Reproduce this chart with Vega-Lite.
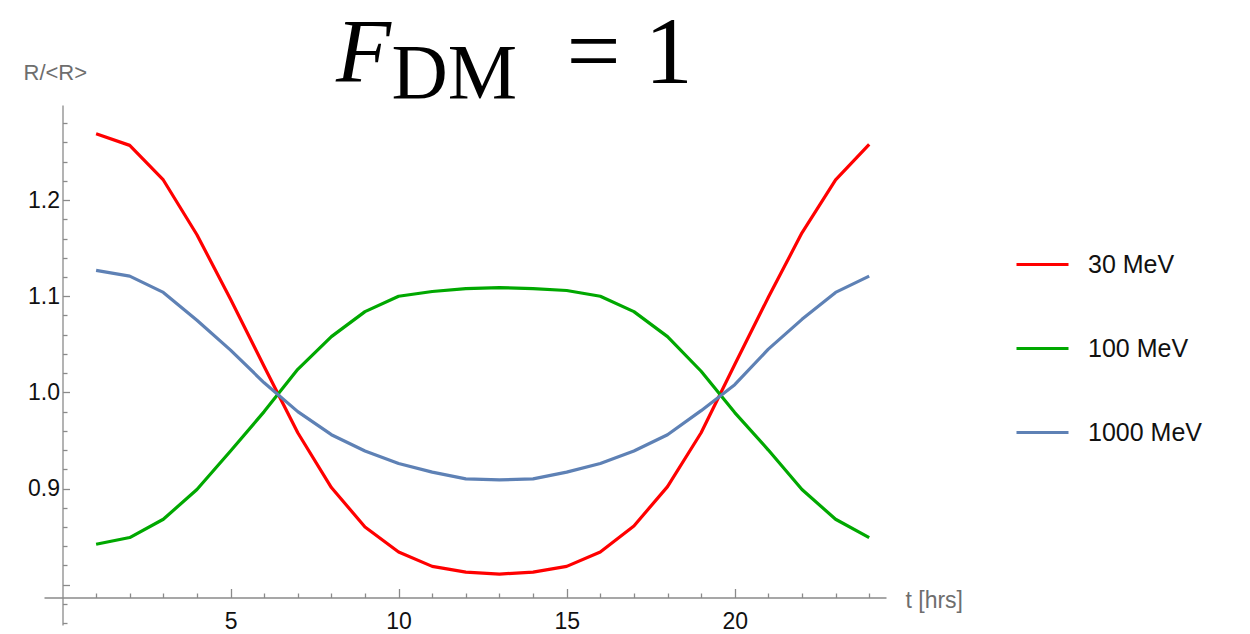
{
  "$schema": "https://vega.github.io/schema/vega-lite/v6.json",
  "autosize": "none",
  "padding": {"left": 44, "top": 105, "right": 364, "bottom": 9},
  "width": 842,
  "height": 520,
  "background": "white",
  "config": {"view": {"stroke": null}},
  "title": {"text": "F", "anchor": "start", "frame": "group", "font": "Liberation Serif", "fontStyle": "italic", "fontWeight": "normal", "fontSize": 90, "color": "black", "baseline": "alphabetic", "offset": 0, "dx": 292, "dy": 167},
  "data": {"values": [
    {"t": 1, "r": 1.269, "s": "30 MeV"}, {"t": 2, "r": 1.257, "s": "30 MeV"}, {"t": 3, "r": 1.221, "s": "30 MeV"}, {"t": 4, "r": 1.164, "s": "30 MeV"}, {"t": 5, "r": 1.097, "s": "30 MeV"}, {"t": 6, "r": 1.027, "s": "30 MeV"}, {"t": 7, "r": 0.958, "s": "30 MeV"}, {"t": 8, "r": 0.901, "s": "30 MeV"}, {"t": 9, "r": 0.860, "s": "30 MeV"}, {"t": 10, "r": 0.834, "s": "30 MeV"}, {"t": 11, "r": 0.819, "s": "30 MeV"}, {"t": 12, "r": 0.813, "s": "30 MeV"}, {"t": 13, "r": 0.811, "s": "30 MeV"}, {"t": 14, "r": 0.813, "s": "30 MeV"}, {"t": 15, "r": 0.819, "s": "30 MeV"}, {"t": 16, "r": 0.834, "s": "30 MeV"}, {"t": 17, "r": 0.861, "s": "30 MeV"}, {"t": 18, "r": 0.902, "s": "30 MeV"}, {"t": 19, "r": 0.958, "s": "30 MeV"}, {"t": 20, "r": 1.029, "s": "30 MeV"}, {"t": 21, "r": 1.099, "s": "30 MeV"}, {"t": 22, "r": 1.166, "s": "30 MeV"}, {"t": 23, "r": 1.221, "s": "30 MeV"}, {"t": 24, "r": 1.258, "s": "30 MeV"},
    {"t": 1, "r": 0.842, "s": "100 MeV"}, {"t": 2, "r": 0.849, "s": "100 MeV"}, {"t": 3, "r": 0.868, "s": "100 MeV"}, {"t": 4, "r": 0.899, "s": "100 MeV"}, {"t": 5, "r": 0.939, "s": "100 MeV"}, {"t": 6, "r": 0.980, "s": "100 MeV"}, {"t": 7, "r": 1.024, "s": "100 MeV"}, {"t": 8, "r": 1.058, "s": "100 MeV"}, {"t": 9, "r": 1.084, "s": "100 MeV"}, {"t": 10, "r": 1.100, "s": "100 MeV"}, {"t": 11, "r": 1.105, "s": "100 MeV"}, {"t": 12, "r": 1.108, "s": "100 MeV"}, {"t": 13, "r": 1.109, "s": "100 MeV"}, {"t": 14, "r": 1.108, "s": "100 MeV"}, {"t": 15, "r": 1.106, "s": "100 MeV"}, {"t": 16, "r": 1.100, "s": "100 MeV"}, {"t": 17, "r": 1.084, "s": "100 MeV"}, {"t": 18, "r": 1.058, "s": "100 MeV"}, {"t": 19, "r": 1.022, "s": "100 MeV"}, {"t": 20, "r": 0.979, "s": "100 MeV"}, {"t": 21, "r": 0.940, "s": "100 MeV"}, {"t": 22, "r": 0.899, "s": "100 MeV"}, {"t": 23, "r": 0.868, "s": "100 MeV"}, {"t": 24, "r": 0.849, "s": "100 MeV"},
    {"t": 1, "r": 1.127, "s": "1000 MeV"}, {"t": 2, "r": 1.121, "s": "1000 MeV"}, {"t": 3, "r": 1.104, "s": "1000 MeV"}, {"t": 4, "r": 1.075, "s": "1000 MeV"}, {"t": 5, "r": 1.044, "s": "1000 MeV"}, {"t": 6, "r": 1.010, "s": "1000 MeV"}, {"t": 7, "r": 0.980, "s": "1000 MeV"}, {"t": 8, "r": 0.956, "s": "1000 MeV"}, {"t": 9, "r": 0.939, "s": "1000 MeV"}, {"t": 10, "r": 0.926, "s": "1000 MeV"}, {"t": 11, "r": 0.917, "s": "1000 MeV"}, {"t": 12, "r": 0.910, "s": "1000 MeV"}, {"t": 13, "r": 0.909, "s": "1000 MeV"}, {"t": 14, "r": 0.910, "s": "1000 MeV"}, {"t": 15, "r": 0.917, "s": "1000 MeV"}, {"t": 16, "r": 0.926, "s": "1000 MeV"}, {"t": 17, "r": 0.939, "s": "1000 MeV"}, {"t": 18, "r": 0.956, "s": "1000 MeV"}, {"t": 19, "r": 0.981, "s": "1000 MeV"}, {"t": 20, "r": 1.008, "s": "1000 MeV"}, {"t": 21, "r": 1.045, "s": "1000 MeV"}, {"t": 22, "r": 1.076, "s": "1000 MeV"}, {"t": 23, "r": 1.104, "s": "1000 MeV"}, {"t": 24, "r": 1.121, "s": "1000 MeV"}
  ]},
  "resolve": {"axis": {"x": "independent", "y": "independent"}},
  "layer": [
    {
      "mark": {"type": "line", "strokeWidth": 3.2, "strokeJoin": "round"},
      "encoding": {
        "x": {"field": "t", "type": "quantitative",
          "scale": {"domain": [-0.55, 24.5], "nice": false, "zero": false},
          "axis": {"orient": "bottom", "offset": -27.5, "grid": false,
            "values": [1,2,3,4,5,6,7,8,9,10,11,12,13,14,15,16,17,18,19,20,21,22,23,24],
            "labelExpr": "datum.value % 5 === 0 ? datum.label : ''",
            "tickSize": {"condition": {"test": "datum.value % 5 === 0", "value": -9}, "value": -4.5},
            "domainColor": "#8a8a8a", "tickColor": "#8a8a8a", "domainWidth": 1.3, "tickWidth": 1.3,
            "labelFont": "Liberation Sans", "labelFontSize": 23, "labelColor": "#111111", "labelPadding": 22,
            "labelFlush": false, "labelOverlap": false,
            "title": "t [hrs]", "titleX": 861, "titleY": 9.5, "titleAlign": "left", "titleBaseline": "alphabetic",
            "titleFont": "Liberation Sans", "titleFontSize": 23, "titleFontWeight": "normal", "titleColor": "#6e6e6e"}},
        "y": {"field": "r", "type": "quantitative",
          "scale": {"domain": [0.758, 1.299], "nice": false, "zero": false},
          "axis": {"orient": "left", "offset": -18.5, "grid": false,
            "values": [0.76,0.78,0.8,0.82,0.84,0.86,0.88,0.9,0.92,0.94,0.96,0.98,1,1.02,1.04,1.06,1.08,1.1,1.12,1.14,1.16,1.18,1.2,1.22,1.24,1.26,1.28],
            "format": ".1f",
            "labelExpr": "(abs(datum.value*10 - round(datum.value*10)) < 0.001 && datum.value > 0.85) ? datum.label : ''",
            "tickSize": {"condition": {"test": "abs(datum.value*10 - round(datum.value*10)) < 0.001", "value": -7}, "value": -4.5},
            "domainColor": "#8a8a8a", "tickColor": "#8a8a8a", "domainWidth": 1.3, "tickWidth": 1.3,
            "labelFont": "Liberation Sans", "labelFontSize": 23, "labelColor": "#111111", "labelPadding": 10,
            "labelFlush": false, "labelOverlap": false,
            "title": "R/<R>", "titleAngle": 0, "titleX": -39.5, "titleY": -26, "titleAlign": "left", "titleBaseline": "alphabetic",
            "titleFont": "Liberation Sans", "titleFontSize": 22, "titleFontWeight": "normal", "titleColor": "#6e6e6e"}},
        "color": {"field": "s", "type": "nominal",
          "scale": {"domain": ["30 MeV", "100 MeV", "1000 MeV"], "range": ["#ff0000", "#00a800", "#5e81b5"]},
          "legend": {"orient": "none", "legendX": 971, "legendY": 132, "title": null,
            "symbolType": "stroke", "symbolSize": 2704, "symbolStrokeWidth": 3,
            "labelFont": "Liberation Sans", "labelFontSize": 25, "labelColor": "#111111", "labelOffset": 18,
            "rowPadding": 43}}
      }
    },
    {
      "mark": {"type": "line", "opacity": 0},
      "encoding": {
        "x": {"field": "t", "type": "quantitative",
          "axis": {"orient": "top", "domain": false, "ticks": false, "labels": false, "grid": false,
            "title": "DM", "titleX": 347, "titleY": -8, "titleAlign": "left", "titleBaseline": "alphabetic",
            "titleFont": "Liberation Serif", "titleFontSize": 78, "titleFontWeight": "normal", "titleColor": "black"}},
        "y": {"field": "r", "type": "quantitative", "axis": null}
      }
    },
    {
      "mark": {"type": "line", "opacity": 0},
      "encoding": {
        "x": {"field": "t", "type": "quantitative", "axis": null},
        "y": {"field": "r", "type": "quantitative",
          "axis": {"orient": "right", "domain": false, "ticks": false, "labels": false, "grid": false,
            "title": "= 1", "titleAngle": 0, "titleX": -320, "titleY": -23, "titleAlign": "left", "titleBaseline": "alphabetic",
            "titleFont": "Liberation Serif", "titleFontSize": 96, "titleFontWeight": "normal", "titleColor": "black"}}
      }
    }
  ]
}
